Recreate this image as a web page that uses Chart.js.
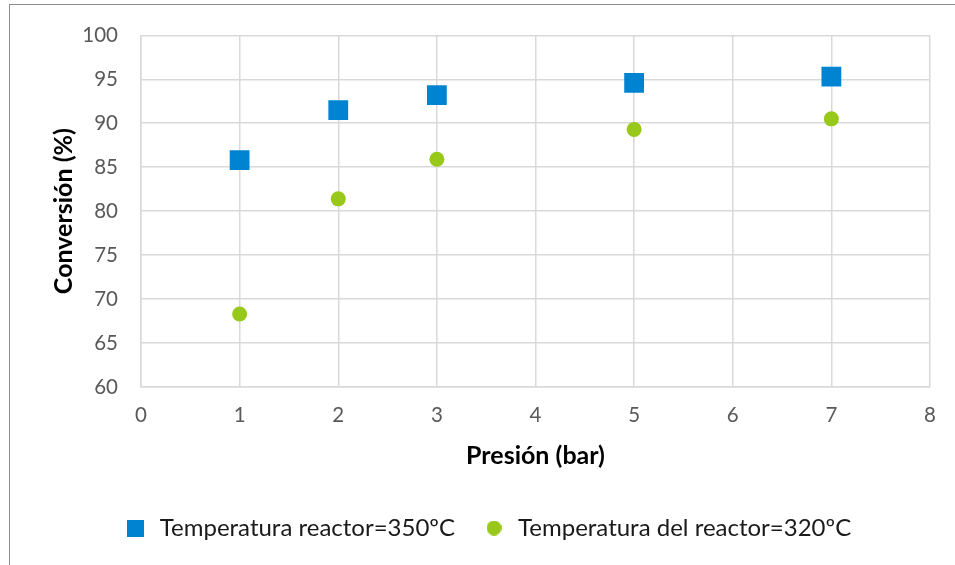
<!DOCTYPE html>
<html>
<head>
<meta charset="utf-8">
<script src="https://cdn.jsdelivr.net/npm/chart.js@4"></script>
<style>
    body { margin: 0; background: #fff; }
    #wrap { position: relative; width: 955px; height: 565px; overflow: hidden; }
    #frame { position: absolute; left: 9px; top: 4px; width: 980px; height: 600px; border: 1px solid #8c8c8c; }
    canvas { position: absolute; left: 0; top: 0; }
</style>
</head>
<body>
<div id="wrap">
    <div id="frame"></div>
    <canvas id="chart" width="955" height="565"></canvas>
</div>
<script>
// Presión (bar)
const presion = [1, 2, 3, 5, 7];
// Conversión (%) por temperatura
const conv350 = [85.8, 91.5, 93.2, 94.6, 95.3];
const conv320 = [68.3, 81.4, 85.9, 89.3, 90.5];

const serie350 = 'Temperatura reactor=350ºC';
const serie320 = 'Temperatura del reactor=320ºC';

const BLUE = '#0084d1';
const GREEN = '#97c81a';
const FONT = 'Lato, "Open Sans", sans-serif';

function toPoints(xs, ys) {
    return xs.map((x, i) => ({ x: x, y: ys[i] }));
}

// pequeños marcadores para la leyenda
function legendMarker(kind, size, color) {
    const c = document.createElement('canvas');
    c.width = size;
    c.height = size;
    const g = c.getContext('2d');
    g.fillStyle = color;
    if (kind === 'circle') {
        g.beginPath();
        g.arc(size / 2, size / 2, size / 2, 0, Math.PI * 2);
        g.fill();
    } else {
        g.fillRect(0, 0, size, size);
    }
    return c;
}
const markers = [legendMarker('rect', 17, BLUE), legendMarker('circle', 15, GREEN)];

const ctx = document.getElementById('chart').getContext('2d');
new Chart(ctx, {
    type: 'scatter',
    data: {
        datasets: [
            {
                label: serie350,
                data: toPoints(presion, conv350),
                pointStyle: 'rect',
                pointRadius: 14,
                backgroundColor: BLUE,
                borderColor: BLUE,
                borderWidth: 0
            },
            {
                label: serie320,
                data: toPoints(presion, conv320),
                pointStyle: 'circle',
                pointRadius: 7.5,
                backgroundColor: GREEN,
                borderColor: GREEN,
                borderWidth: 0
            }
        ]
    },
    options: {
        responsive: false,
        animation: false,
        layout: { padding: { top: 34, right: 25, left: 45, bottom: 15 } },
        plugins: {
            tooltip: { enabled: false },
            legend: {
                position: 'bottom',
                labels: {
                    usePointStyle: true,
                    boxHeight: 17,
                    padding: 27,
                    color: '#1a1a1a',
                    font: { family: FONT, size: 24 },
                    generateLabels: chart => {
                        const items = Chart.defaults.plugins.legend.labels.generateLabels(chart);
                        items.forEach((it, i) => { it.pointStyle = markers[i]; });
                        return items;
                    }
                }
            }
        },
        scales: {
            x: {
                type: 'linear',
                min: 0,
                max: 8,
                ticks: { stepSize: 1, padding: 16, color: '#595959', font: { family: FONT, size: 20.5 } },
                grid: { color: '#d9d9d9', lineWidth: 1.5, drawTicks: false },
                border: { color: '#d9d9d9', width: 1.5 },
                title: {
                    display: true,
                    text: 'Presión (bar)',
                    color: '#000',
                    font: { family: FONT, size: 25, weight: 'bold' },
                    padding: { top: 4, bottom: 18 }
                },
                afterFit: scale => { scale.height = 102; }
            },
            y: {
                min: 60,
                max: 100,
                ticks: { stepSize: 5, padding: 23, color: '#595959', font: { family: FONT, size: 20.5 } },
                grid: { color: '#d9d9d9', lineWidth: 1.5, drawTicks: false },
                border: { color: '#d9d9d9', width: 1.5 },
                title: {
                    display: true,
                    text: 'Conversión (%)',
                    color: '#000',
                    font: { family: FONT, size: 25, weight: 'bold' }
                },
                afterFit: scale => { scale.width = 96; }
            }
        }
    }
});
</script>
</body>
</html>
